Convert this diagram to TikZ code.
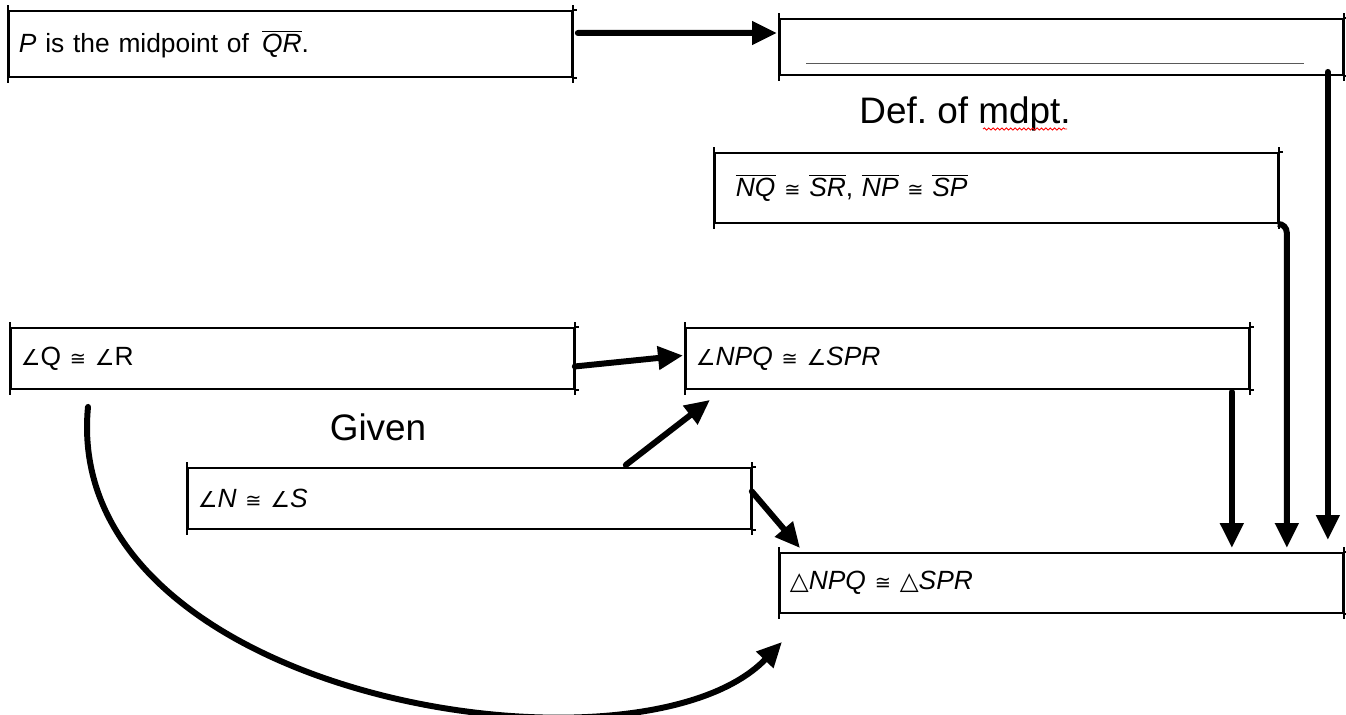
\documentclass[tikz,border=0pt]{standalone}
\usepackage{fontspec}
\setmainfont{Liberation Sans}
\newfontfamily\symb{DejaVu Sans}
\usetikzlibrary{arrows.meta,calc,decorations.pathmorphing}
\newcommand{\seg}[1]{$\overline{\mbox{\itshape #1}}$}
\newcommand{\ang}{{\symb\upshape\fontsize{12.5}{12}\selectfont ∠}}
\newcommand{\cgr}{{\symb\upshape\fontsize{11}{11}\selectfont ≅}}
\newcommand{\trg}{{\symb\upshape\fontsize{14}{12}\selectfont △}}
\frenchspacing
\begin{document}
\begin{tikzpicture}[x=0.02cm,y=-0.02cm]
		\tikzset{boite/.style={draw, line width=1.1pt, anchor=north west, inner xsep=0.2cm, inner ysep=0pt, text width=10.86cm, align=left, font=\fontsize{15}{17}\selectfont}}
		\tikzset{bord/.style={line width=1.1pt}}
		\tikzset{fleche/.style={line width=3.4pt, line cap=round, -{Triangle[length=0.5cm,width=0.45cm]}}}
		\tikzset{etiq/.style={anchor=base, font=\fontsize{21}{24}\selectfont}}
		\useasboundingbox (0,0) rectangle (1346,714);

		\node[boite, minimum height=1.32cm] (M) at (8,10) {\textit{P} is the midpoint of\, \seg{QR}.};
		\node[boite, minimum height=1.12cm] (V) at (779,18) {};
		\node[boite, minimum height=1.4cm] (S) at (714,152) {\hspace*{0.22cm}\seg{NQ} \cgr{} \seg{SR}, \seg{NP} \cgr{} \seg{SP}};
		\node[boite, minimum height=1.22cm] (Q) at (10,327) {\ang Q \cgr{} \ang R};
		\node[boite, minimum height=1.22cm] (P) at (685,327) {\ang\textit{NPQ} \cgr{} \ang\textit{SPR}};
		\node[boite, minimum height=1.22cm] (N) at (187,467) {\ang\textit{N} \cgr{} \ang\textit{S}};
		\node[boite, minimum height=1.2cm] (T) at (779,552) {\trg\textit{NPQ} \cgr{} \trg\textit{SPR}};

		\foreach \b in {M,V,S,Q,P,N,T} {
			\draw[bord] ($(\b.north west)+(0,-5)$) -- ($(\b.south west)+(0,5)$);
			\draw[bord] ($(\b.north east)+(0,-5)$) -- ($(\b.south east)+(0,5)$);
			\draw[bord] (\b.north east) -- ++(4,0);
			\draw[bord] (\b.south east) -- ++(4,0);
		}
		\draw[gray!70!black, line width=0.6pt] ($(V.south west)+(27,-12)$) -- ($(V.south east)+(-40,-12)$);

		\node[etiq] (D) at (965,123) {Def. of mdpt.};
		\node[etiq] (G) at (378,440) {Given};
		\draw[red, line width=0.5pt, decorate, decoration={snake, amplitude=0.6pt, segment length=2.5pt}] ($(D.base)+(18,6)$) -- ($(D.base)+(102,6)$);

		\draw[fleche] ($(M.east)+(5,-11)$) -- ($(V.west)+(-2,-14)$);
		\draw[fleche] ($(V.south east)+(-16,-4)$) -- ($(V.south east |- T.north)+(-16,-12)$);
		\draw[fleche, rounded corners=5] (S.south east) -| ($(T.north east)+(-57,-4)$);
		\draw[fleche] ($(P.south east)+(-18,2)$) -- ($(P.south east |- T.north)+(-18,-4)$);
		\draw[fleche] ($(Q.east)+(0,8)$) -- ($(P.west)+(-2,-3)$);
		\draw[fleche] ($(N.north east)+(-126,-2)$) -- ($(P.south west)+(25,10)$);
		\draw[fleche] ($(N.east)+(0,-7)$) -- ($(T.north west)+(21,-4)$);
		\draw[fleche] ($(Q.south west)+(78,17)$) .. controls (60,700) and (640,790) .. ($(T.south west)+(3,28)$);

\end{tikzpicture}
\end{document}
